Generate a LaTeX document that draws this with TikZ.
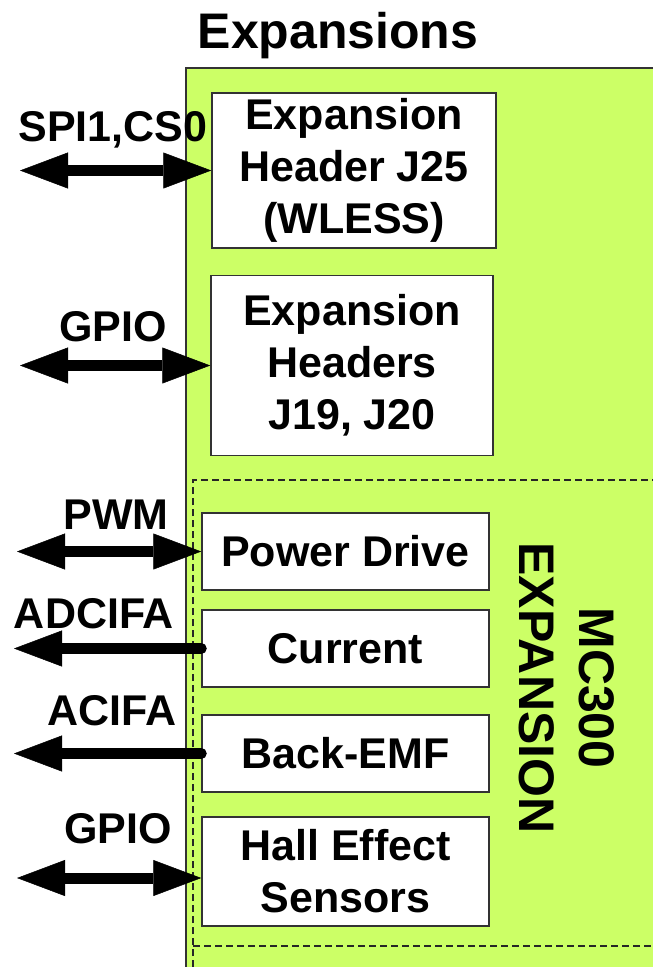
\documentclass[tikz,border=0pt]{standalone}
\usepackage{fontspec}
\setmainfont{Liberation Sans}
\usetikzlibrary{arrows.meta}
\definecolor{boardgreen}{HTML}{CCFF66}
\definecolor{edgegray}{HTML}{333333}
\tikzset{
  block/.style={draw=edgegray, line width=1.5pt, fill=white, inner sep=0pt,
    align=center, font=\fontsize{43}{52}\selectfont\bfseries},
  siglabel/.style={inner sep=0pt, font=\fontsize{43}{52}\selectfont\bfseries},
  groupline/.style={draw=black!85, line width=1.4pt, dash pattern=on 7pt off 4pt},
  bus/.style={line width=11pt, draw=black,
    {Triangle[length=48pt,width=36pt,line width=0.5pt]}-{Triangle[length=48pt,width=36pt,line width=0.5pt]}},
  outbus/.style={line width=11pt, draw=black, line cap=round,
    {Triangle[length=48pt,width=36pt,line width=0.5pt]}-},
}
\begin{document}
\begin{tikzpicture}[x=1pt,y=-1pt]
\useasboundingbox (0,0) rectangle (653,967);

% board area
\fill[boardgreen, draw=edgegray, line width=1.5pt] (186,68) rectangle (680,1000);
\node[inner sep=0pt, font=\fontsize{50}{60}\selectfont\bfseries, anchor=base] (title) at (338,48) {Expansions};

% motor-control group
\draw[groupline] (193,1000) -- (193,480) -- (680,480);
\draw[groupline] (193,946) -- (680,946);
\node[rotate=-90, inner sep=0pt, align=center, font=\fontsize{50}{60}\selectfont\bfseries] (mc) at (567,688) {MC300\\EXPANSION};

% blocks
\node[block, minimum width=284pt, minimum height=155pt] (j25) at (354,170.5) {Expansion\\Header J25\\(WLESS)};
\node[block, minimum width=282pt, minimum height=180pt] (j19) at (352,365.5) {Expansion\\Headers\\J19, J20};
\node[block, minimum width=287pt, minimum height=77pt] (pd) at (345.5,551.5) {Power Drive};
\node[block, minimum width=287pt, minimum height=77pt] (cur) at (345.5,648.5) {Current};
\node[block, minimum width=287pt, minimum height=77pt] (bemf) at (345.5,753.5) {Back-EMF};
\node[block, minimum width=287pt, minimum height=109pt] (hall) at (345.5,871.5) {Hall Effect\\Sensors};

% free ends of the signal lines
\coordinate (spiL) at (20,170.5);
\coordinate (gpioAL) at (20,365.5);
\coordinate (pwmL) at (17,551.5);
\coordinate (adcL) at (14,648.5);
\coordinate (acL) at (14,753.5);
\coordinate (gpioBL) at (17,878);

% signal lines
\draw[bus] (spiL) -- (j25.west);
\draw[bus] (gpioAL) -- (j19.west);
\draw[bus] (pwmL) -- (pd.west);
\draw[outbus] (adcL) -- (cur.west);
\draw[outbus] (acL) -- (bemf.west);
\draw[bus] (gpioBL) -- (gpioBL -| hall.west);

% signal labels
\node[siglabel] (lspi) at (113,130) {SPI1,CS0};
\node[siglabel] (lgpioA) at (113,327) {GPIO};
\node[siglabel] (lpwm) at (116,515) {PWM};
\node[siglabel] (ladc) at (94,614) {ADCIFA};
\node[siglabel] (lac) at (112,711) {ACIFA};
\node[siglabel] (lgpioB) at (118,829) {GPIO};
\end{tikzpicture}
\end{document}
